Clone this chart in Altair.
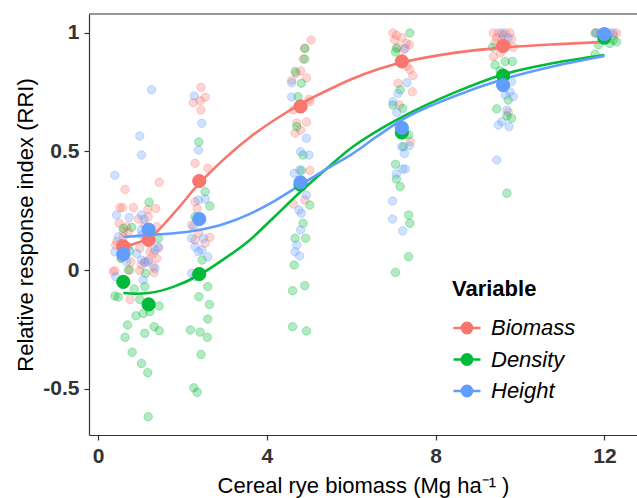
import altair as alt
import pandas as pd

variables = ["Biomass", "Density", "Height"]
colors = ["#F8766D", "#00BA38", "#619CFF"]

# jittered observations (x = cereal rye biomass, y = RRI)
biomass_x = [0.64, 0.52, 0.58, 0.84, 0.50, 0.68, 0.60, 0.72, 0.42, 0.78, 0.40, 0.36, 0.76, 0.76, 0.60, 0.55, 0.45,
             1.45, 1.18, 1.37, 0.96, 1.19, 1.11, 1.39, 0.99, 1.23, 1.31, 1.39, 1.19, 0.99, 1.33, 1.11, 1.03, 1.31, 1.43,
             2.44, 2.26, 2.42, 2.54, 2.44, 2.30, 2.60, 2.30, 2.22, 2.35, 2.65, 2.30, 2.54, 2.38,
             5.05, 4.90, 4.86, 4.70, 4.94, 4.59, 5.02, 4.63, 4.71, 4.94, 4.80, 4.67, 5.02, 4.90, 4.63, 4.80, 5.00,
             6.99, 7.07, 7.03, 7.31, 7.38, 7.11, 7.32, 7.39, 7.46, 7.11, 7.45, 7.14, 7.40, 7.20, 7.25,
             9.37, 9.49, 9.65, 9.76, 9.45, 9.57, 9.41, 9.80, 9.69, 9.84, 9.53, 9.37, 9.72, 9.60,
             11.90, 12.13, 12.29, 12.21, 12.05, 11.80, 12.00]
biomass_y = [0.34, 0.263, 0.263, 0.263, 0.197, 0.183, 0.162, 0.162, 0.105, 0.035, -0.003, -0.007, 0.0, -0.124, 0.14, 0.05, 0.12,
             0.37, 0.255, 0.259, 0.215, 0.225, 0.19, 0.183, 0.092, 0.077, 0.07, 0.049, 0.042, -0.003, -0.011, 0.035, 0.021, 0.014, 0.092,
             0.771, 0.706, 0.714, 0.729, 0.675, 0.45, 0.429, 0.288, 0.19, 0.259, 0.138, 0.127, 0.113, 0.155,
             0.97, 0.935, 0.89, 0.83, 0.81, 0.80, 0.71, 0.675, 0.62, 0.624, 0.59, 0.578, 0.42, 0.295, 0.278, 0.84, 0.72,
             1.0, 0.99, 0.97, 0.956, 0.95, 0.94, 0.86, 0.845, 0.82, 0.788, 0.752, 0.696, 0.542, 0.98, 0.93,
             1.0, 1.0, 1.0, 1.0, 0.98, 0.975, 0.96, 0.975, 0.95, 0.94, 0.915, 0.90, 0.665, 0.99,
             1.0, 1.0, 1.0, 0.99, 0.99, 1.0, 0.995]

density_x = [0.60, 0.80, 0.40, 0.48, 0.86, 0.70, 0.64, 0.81, 0.72, 0.55, 0.75,
             1.21, 1.43, 1.13, 1.11, 0.99, 0.90, 1.07, 1.23, 1.45, 1.33, 1.45, 1.11, 1.03, 1.18, 1.19,
             2.39, 2.54, 2.65, 2.30, 2.47, 2.60, 2.39, 2.64, 2.60, 2.19, 2.42, 2.59, 2.44, 2.27, 2.35,
             4.90, 4.90, 4.67, 4.82, 4.74, 4.71, 4.86, 4.82, 5.02, 4.86, 4.67, 4.92, 4.65, 4.90, 4.61, 4.61, 4.94,
             7.39, 7.07, 7.05, 7.16, 6.99, 7.22, 7.36, 7.24, 7.05, 7.07, 7.16, 7.36, 7.39, 7.36, 7.05,
             9.41, 9.65, 9.82, 9.53, 9.72, 9.45, 9.69, 9.80, 9.69, 9.35,
             11.78, 12.21, 12.13, 11.86, 12.29, 11.78]
density_y = [0.176, 0.18, -0.11, -0.114, -0.08, -0.232, -0.284, -0.347, 0.0, 0.05, 0.08,
             0.286, 0.134, -0.014, -0.07, -0.124, -0.193, -0.183, -0.176, -0.152, -0.239, -0.256, -0.267, -0.394, -0.433, -0.619,
             0.54, 0.33, 0.27, 0.225, 0.042, -0.07, -0.113, -0.145, -0.207, -0.253, -0.262, -0.284, -0.356, -0.497, -0.516,
             0.935, 0.89, 0.837, 0.788, 0.731, 0.605, 0.485, 0.42, 0.274, 0.197, 0.134, 0.134, 0.021, -0.066, -0.087, -0.239, -0.257,
             1.0, 0.935, 0.92, 0.76, 0.696, 0.682, 0.57, 0.52, 0.446, 0.384, 0.352, 0.232, 0.197, 0.056, -0.01,
             0.865, 0.88, 0.88, 0.84, 0.717, 0.68, 0.65, 0.64, 0.324, 0.94,
             1.0, 0.97, 0.956, 0.95, 0.963, 0.91]

height_x = [0.40, 0.44, 0.74, 0.48, 0.40, 0.68, 0.42, 0.60, 0.72, 0.55, 0.62,
            1.27, 0.99, 1.03, 1.03, 1.09, 1.03, 1.43, 1.35, 0.92, 1.03, 1.11, 1.19, 1.35, 1.07, 1.03,
            2.28, 2.46, 2.38, 2.54, 2.38, 2.26, 2.22, 2.50, 2.30, 2.46, 2.60, 2.38, 2.22, 2.30,
            4.59, 4.59, 4.94, 4.80, 5.00, 4.65, 4.78, 4.94, 4.76, 4.82, 4.80, 4.71, 4.67, 4.78,
            7.28, 7.32, 7.11, 6.99, 7.08, 7.38, 7.20, 7.26, 7.22, 7.28, 7.07, 6.98, 6.98, 7.22,
            9.57, 9.72, 9.80, 9.76, 9.84, 9.65, 9.69, 9.57, 9.49, 9.74, 9.45,
            11.82, 12.05, 12.21, 11.94]
height_y = [0.40, 0.232, 0.222, 0.14, 0.077, 0.035, -0.028, -0.042, 0.098, 0.11, 0.06,
            0.76, 0.565, 0.485, 0.232, 0.214, 0.169, 0.098, 0.084, 0.07, 0.042, 0.031, 0.035, 0.007, -0.042, 0.148,
            0.734, 0.619, 0.506, 0.30, 0.295, 0.183, 0.134, 0.134, 0.098, 0.084, 0.056, 0.077, -0.014, -0.028,
            0.79, 0.73, 0.556, 0.499, 0.485, 0.408, 0.422, 0.316, 0.253, 0.239, 0.169, 0.105, 0.077, 0.059,
            0.935, 0.79, 0.745, 0.71, 0.665, 0.524, 0.52, 0.492, 0.426, 0.426, 0.405, 0.291, 0.215, 0.165,
            1.0, 0.98, 0.795, 0.752, 0.731, 0.738, 0.675, 0.626, 0.612, 0.605, 0.464,
            1.0, 0.995, 1.0, 0.98]

# group means
mean_x = [0.6, 1.2, 2.4, 4.8, 7.2, 9.6, 12.0]
biomass_mean = [0.10, 0.127, 0.375, 0.69, 0.88, 0.945, 0.99]
density_mean = [-0.05, -0.145, -0.017, 0.36, 0.58, 0.82, 0.98]
height_mean = [0.067, 0.17, 0.215, 0.37, 0.60, 0.78, 0.995]

# fitted curves
fit_x = [0.6, 0.9, 1.2, 1.8, 2.4, 3.0, 3.6, 4.2, 4.8, 5.4, 6.0, 6.6, 7.2, 8.4, 9.6, 10.8, 12.0]
biomass_fit = [0.097, 0.113, 0.133, 0.24, 0.365, 0.47, 0.56, 0.635, 0.70, 0.755, 0.805, 0.845, 0.875, 0.915, 0.938, 0.952, 0.962]
density_fit = [-0.097, -0.10, -0.097, -0.07, -0.021, 0.048, 0.127, 0.228, 0.33, 0.425, 0.515, 0.585, 0.645, 0.745, 0.825, 0.873, 0.907]
height_fit = [0.139, 0.143, 0.148, 0.155, 0.169, 0.195, 0.237, 0.293, 0.359, 0.425, 0.487, 0.562, 0.633, 0.73, 0.805, 0.86, 0.903]

obs_rows = []
for v, xs, ys in zip(variables, [biomass_x, density_x, height_x], [biomass_y, density_y, height_y]):
    for a, b in zip(xs, ys):
        obs_rows.append({"x": a, "y": b, "Variable": v})
obs = pd.DataFrame(obs_rows)

mean_rows = []
for v, ys in zip(variables, [biomass_mean, density_mean, height_mean]):
    for a, b in zip(mean_x, ys):
        mean_rows.append({"x": a, "y": b, "Variable": v})
means = pd.DataFrame(mean_rows)

fit_rows = []
for v, ys in zip(variables, [biomass_fit, density_fit, height_fit]):
    for a, b in zip(fit_x, ys):
        fit_rows.append({"x": a, "y": b, "Variable": v})
fits = pd.DataFrame(fit_rows)

FONT = "Liberation Sans"
W, H = 548, 421

xscale = alt.Scale(domain=[-0.213, 12.773], nice=False, zero=False)
yscale = alt.Scale(domain=[-0.696, 1.08], nice=False, zero=False)

xaxis = alt.Axis(values=[0, 4, 8, 12], title="Cereal rye biomass (Mg ha\u207b\u00b9 )",
                 titleX=W / 2, titleY=57, titleBaseline="alphabetic", titleAnchor="middle")
yaxis = alt.Axis(values=[-0.5, 0, 0.5, 1], title="Relative response index (RRI)",
                 labelExpr="'' + datum.value",
                 titleX=-57, titleY=H / 2, titleBaseline="alphabetic", titleAnchor="middle")

legend_symbol = "M-1,0H1M-0.38,0A0.38,0.38,0,1,1,0.38,0A0.38,0.38,0,1,1,-0.38,0Z"
legend = alt.Legend(
    title="Variable", orient="none", legendX=363, legendY=265,
    symbolType=legend_symbol, symbolSize=729, symbolStrokeWidth=2.5, symbolOpacity=1,
    labelOffset=9, rowPadding=5.5, titlePadding=12, padding=0,
)
cscale = alt.Scale(domain=variables, range=colors)

points = alt.Chart(obs).mark_circle(size=72, fillOpacity=0.3, strokeOpacity=0.3, strokeWidth=1).encode(
    x=alt.X("x:Q", scale=xscale, axis=xaxis),
    y=alt.Y("y:Q", scale=yscale, axis=yaxis),
    fill=alt.Fill("Variable:N", scale=cscale, legend=legend),
    stroke=alt.Stroke("Variable:N", scale=cscale, legend=legend),
)

lines = alt.Chart(fits).mark_line(strokeWidth=2.6, interpolate="monotone").encode(
    x=alt.X("x:Q", scale=xscale),
    y=alt.Y("y:Q", scale=yscale),
    stroke=alt.Stroke("Variable:N", scale=cscale, legend=legend),
)

mean_pts = alt.Chart(means).mark_circle(size=175, opacity=1, strokeWidth=1).encode(
    x=alt.X("x:Q", scale=xscale),
    y=alt.Y("y:Q", scale=yscale),
    fill=alt.Fill("Variable:N", scale=cscale, legend=legend),
    stroke=alt.Stroke("Variable:N", scale=cscale, legend=legend),
)

top_rule = alt.Chart(pd.DataFrame({"a": [0]})).mark_rule(color="#333333", strokeWidth=1.2).encode(
    x=alt.value(0), x2=alt.value(W), y=alt.value(0)
)

chart = alt.layer(points, lines, mean_pts, top_rule).properties(
    width=W, height=H,
    autosize=alt.AutoSizeParams(type="none"),
    padding={"left": 89, "top": 14, "right": 0, "bottom": 63},
).configure_view(stroke=None).configure_axis(
    grid=False,
    domainColor="#333333", domainWidth=1.2,
    tickColor="#333333", tickWidth=1.2, tickSize=5,
    labelFont=FONT, labelFontSize=21, labelFontWeight="bold", labelColor="#333333", labelPadding=5,
    titleFont=FONT, titleFontSize=22, titleFontWeight="normal", titleColor="#000000",
).configure_legend(
    titleFont=FONT, titleFontSize=22, titleFontWeight="bold", titleColor="#000000",
    labelFont=FONT, labelFontSize=22, labelFontStyle="italic", labelColor="#000000",
)

chart.save("out.html", embed_options={"renderer": "svg", "actions": False})
